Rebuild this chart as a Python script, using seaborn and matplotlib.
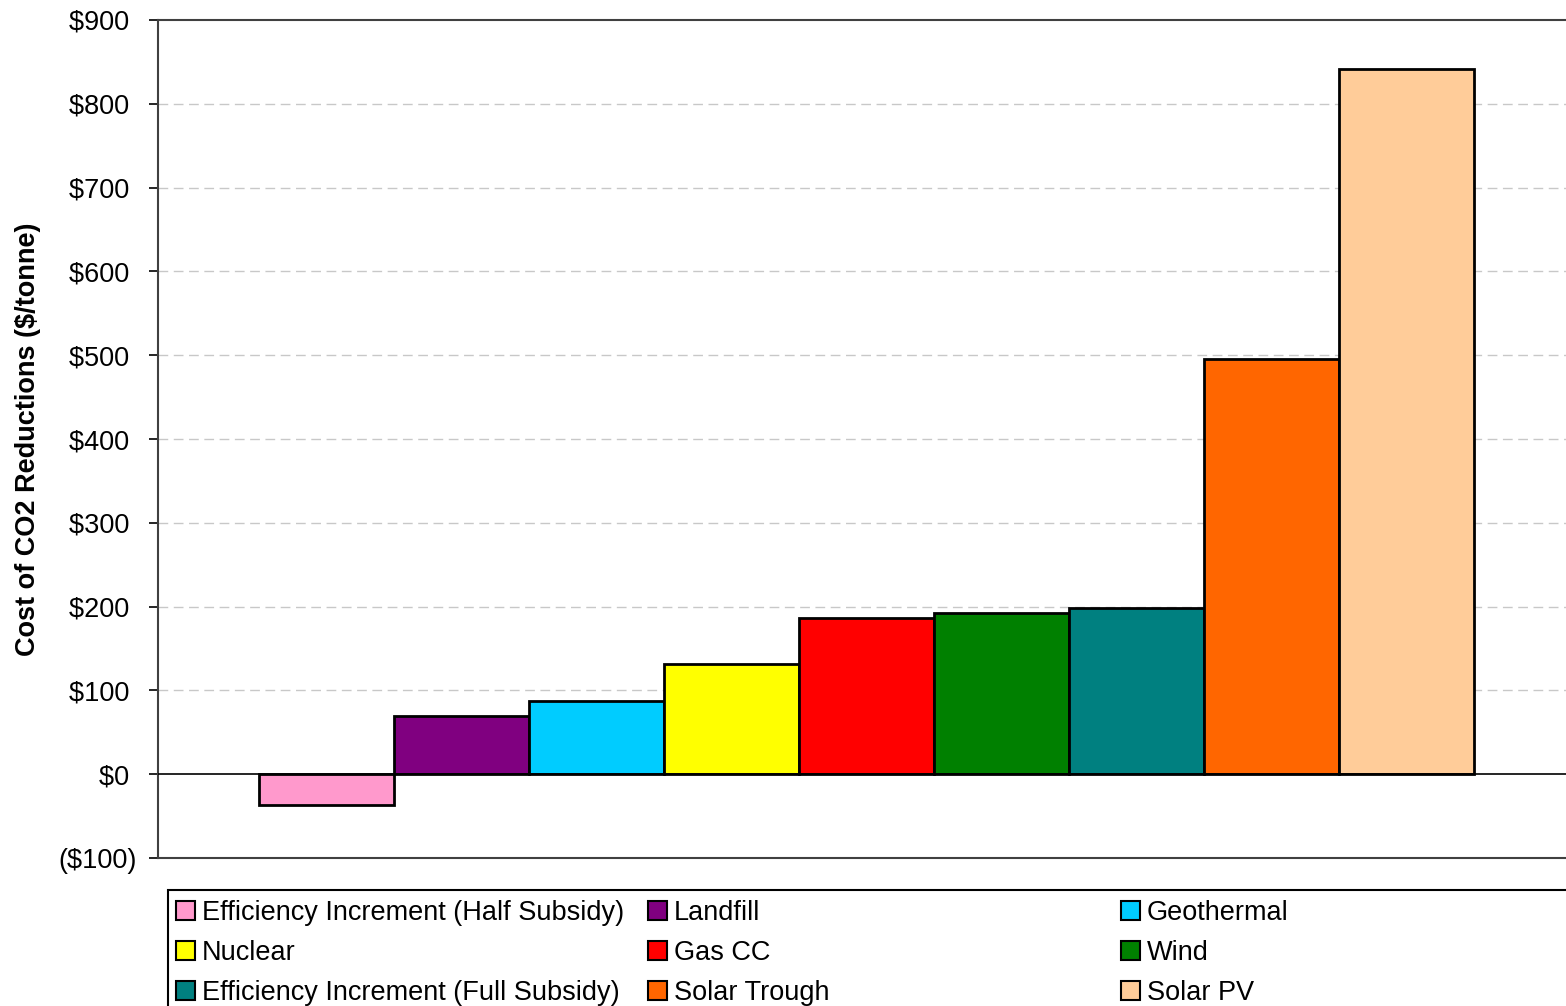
import matplotlib
matplotlib.use("Agg")
import matplotlib.pyplot as plt
import seaborn as sns
import pandas as pd
from matplotlib.patches import Patch, Rectangle
from matplotlib.ticker import FixedLocator, FuncFormatter

categories = [
    "Efficiency Increment (Half Subsidy)", "Landfill", "Geothermal", "Nuclear",
    "Gas CC", "Wind", "Efficiency Increment (Full Subsidy)", "Solar Trough", "Solar PV",
]
values = [-37, 70, 87, 131, 186, 192, 198, 496, 842]
colors = ["#FF99CC", "#800080", "#00CCFF", "#FFFF00", "#FF0000",
          "#008000", "#008080", "#FF6600", "#FFCC99"]
y_ticks = [-100, 0, 100, 200, 300, 400, 500, 600, 700, 800, 900]

sns.set_theme(style="white")
plt.rcParams["font.family"] = ["Liberation Sans", "DejaVu Sans"]
plt.rcParams["text.color"] = "black"
plt.rcParams["axes.labelcolor"] = "black"
plt.rcParams["ytick.color"] = "black"

df = pd.DataFrame({"category": categories, "value": values})

fig = plt.figure(figsize=(15.66, 10.06), dpi=100)
ax = fig.add_axes([158 / 1566, 148 / 1006, 1 - 158 / 1566, (858 - 20) / 1006])

sns.barplot(data=df, x="category", y="value", hue="category", order=categories,
            hue_order=categories, palette=colors, width=1.0, edgecolor="black",
            linewidth=2, legend=False, ax=ax, zorder=3, saturation=1)

ax.set_xlim(-1.248, 9.18)
ax.set_ylim(-100, 900)
ax.yaxis.set_major_locator(FixedLocator(y_ticks))


def fmt(v, pos):
    v = int(round(v))
    return f"(${abs(v)})" if v < 0 else f"${v} "


ax.yaxis.set_major_formatter(FuncFormatter(fmt))
ax.set_xticks([])
ax.set_xlabel("")
ax.set_ylabel("Cost of CO2 Reductions ($/tonne)", fontsize=19.5, fontweight="bold",
              labelpad=12, color="black")
ax.tick_params(axis="y", which="major", left=True, length=6.5, width=1.2, color="black",
               labelsize=19.5, pad=9, labelcolor="black")

for g in y_ticks[2:-1]:
    ax.axhline(g, color="#c8c8c8", linestyle=(0, (7, 4)), linewidth=1.0, zorder=1)
ax.axhline(0, color="black", linewidth=1.2, zorder=4)

for s in ["left", "top", "bottom"]:
    ax.spines[s].set_visible(True)
    ax.spines[s].set_color("#404040")
    ax.spines[s].set_linewidth(1.5)
ax.spines["right"].set_visible(False)

# legend frame (extends beyond the figure on right and bottom)
fig.patches.append(Rectangle((168 / 1566, -0.1), 1.0, (1006 - 890) / 1006 + 0.1,
                             transform=fig.transFigure, fill=False,
                             edgecolor="black", linewidth=1.5))

col_x = [176, 648, 1121]
order_rows = [[0, 1, 2], [3, 4, 5], [6, 7, 8]]
for c in range(3):
    idxs = [order_rows[r][c] for r in range(3)]
    handles = [Patch(facecolor=colors[i], edgecolor="black", linewidth=1.5) for i in idxs]
    labels = [categories[i] for i in idxs]
    fig.legend(handles, labels, loc="upper left",
               bbox_to_anchor=(col_x[c] / 1566, (1006 - 900) / 1006),
               frameon=False, fontsize=19.5, borderpad=0, borderaxespad=0,
               handlelength=0.7, handleheight=0.7, handletextpad=0.25,
               labelspacing=0.52, labelcolor="black")

fig.savefig("out.png", dpi=100)
